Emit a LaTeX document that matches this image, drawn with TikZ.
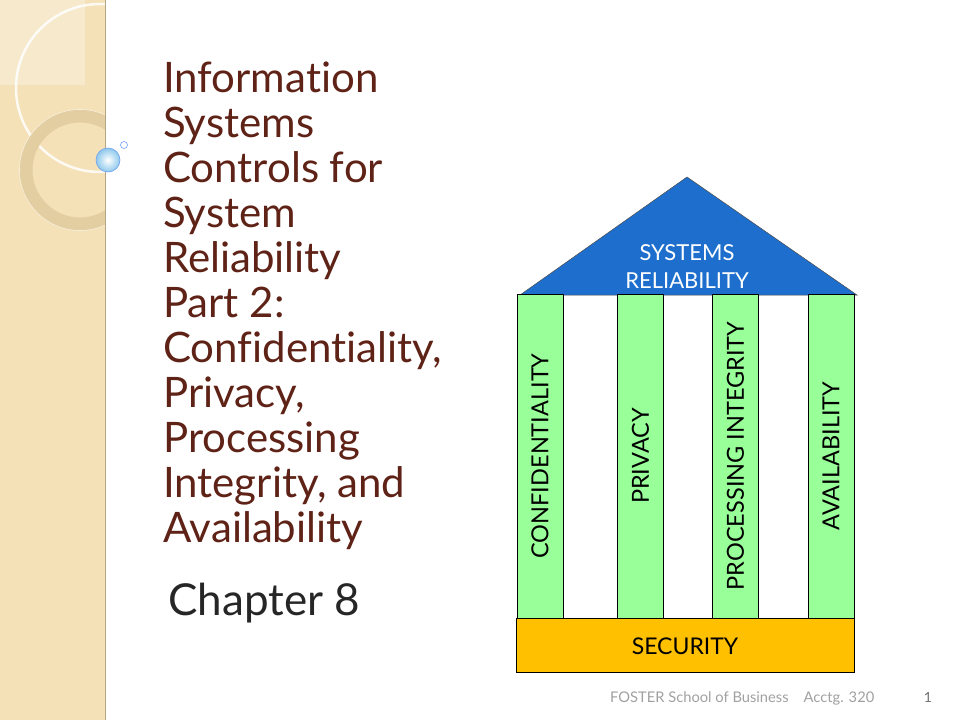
\documentclass[tikz,border=0pt]{standalone}
\usepackage{fontspec}
\setmainfont{Lato}[Ligatures={NoCommon}]
\usetikzlibrary{positioning}
\definecolor{stripbeige}{RGB}{244,225,183}
\definecolor{ringtan}{RGB}{226,206,160}
\definecolor{titlebrown}{RGB}{94,34,22}
\definecolor{roofblue}{RGB}{30,111,205}
\definecolor{pillargreen}{RGB}{153,255,153}
\definecolor{baseorange}{RGB}{255,192,0}
\definecolor{footgray}{RGB}{160,160,160}
\definecolor{bubbleblue}{RGB}{140,200,235}

\begin{document}
\begin{tikzpicture}[x=1pt, y=-1pt,
    pillar/.style={draw=black, fill=pillargreen, minimum width=324pt,
      minimum height=46pt, inner sep=0pt, rotate=90,
      font=\fontsize{23.5}{23.5}\selectfont},
    plainlabel/.style={inner sep=0pt, align=center}]
    \useasboundingbox (0,0) rectangle (960,720);

    % Draw the side strip
    \fill[stripbeige] (0,0) rectangle (105,720);
    \begin{scope}
      \clip (0,0) rectangle (105,720);
      \fill[white, opacity=0.3] (0,0) rectangle (85,85);
      \draw[white, line width=2.5pt, opacity=0.85] (100,88) circle (84);
      \draw[ringtan, line width=13pt] (80,170) circle (54);
      \draw[white, line width=0.6pt, opacity=0.6] (80,170) circle (60.5);
    \end{scope}
    \draw[ringtan!80!black, line width=0.8pt] (105,0) -- (105,720);

    % Add the bubbles
    \shade[inner color=white, outer color=bubbleblue] (108,160) circle (12);
    \draw[bubbleblue!80!blue, line width=0.6pt] (108,160) circle (12);
    \draw[bubbleblue!80!blue, fill=white, line width=0.6pt] (124,145) circle (3.5);

    % Title and chapter
    \node[plainlabel, anchor=base west, align=left, text=titlebrown,
      font=\fontsize{42}{45}\selectfont] (title) at (163,542)
      {Information\\Systems\\Controls for\\System\\Reliability\\Part 2:\\
       Confidentiality,\\Privacy,\\Processing\\Integrity, and\\Availability};
    \node[plainlabel, anchor=base west, text=black!85,
      font=\fontsize{44}{44}\selectfont] (chapter) at (168,615) {Chapter 8};

    % Draw the house
    \draw[black, fill=white] (517,294) rectangle (854,618);
    \fill[roofblue, draw=black!70, line width=0.5pt]
      (520,295) -- (687,177) -- (857,295) -- cycle;
    \node[plainlabel, anchor=base, text=white, font=\fontsize{22}{28}\selectfont]
      (roof) at (687,288) {SYSTEMS\\RELIABILITY};
    \foreach \name/\cx/\txt in {conf/540/CONFIDENTIALITY, priv/640.5/PRIVACY,
        proc/735.5/PROCESSING INTEGRITY, avail/831/AVAILABILITY}
      \node[pillar] (\name) at (\cx,456) {\txt};
    \node[draw=black, fill=baseorange, minimum width=338pt, minimum height=54pt,
      inner sep=0pt] (security) at (685,645) {};
    \node[plainlabel, anchor=base, font=\fontsize{23}{23}\selectfont]
      (securitylabel) at (685,654) {SECURITY};

    % Footer
    \node[plainlabel, anchor=base west, text=footgray,
      font=\fontsize{14.7}{14.7}\selectfont] (foot) at (610,702)
      {FOSTER School of Business\hspace{15pt}Acctg. 320};
    \node[plainlabel, anchor=base, text=footgray!70!black,
      font=\fontsize{14}{14}\selectfont] (page) at (928,702) {1};
\end{tikzpicture}
\end{document}
